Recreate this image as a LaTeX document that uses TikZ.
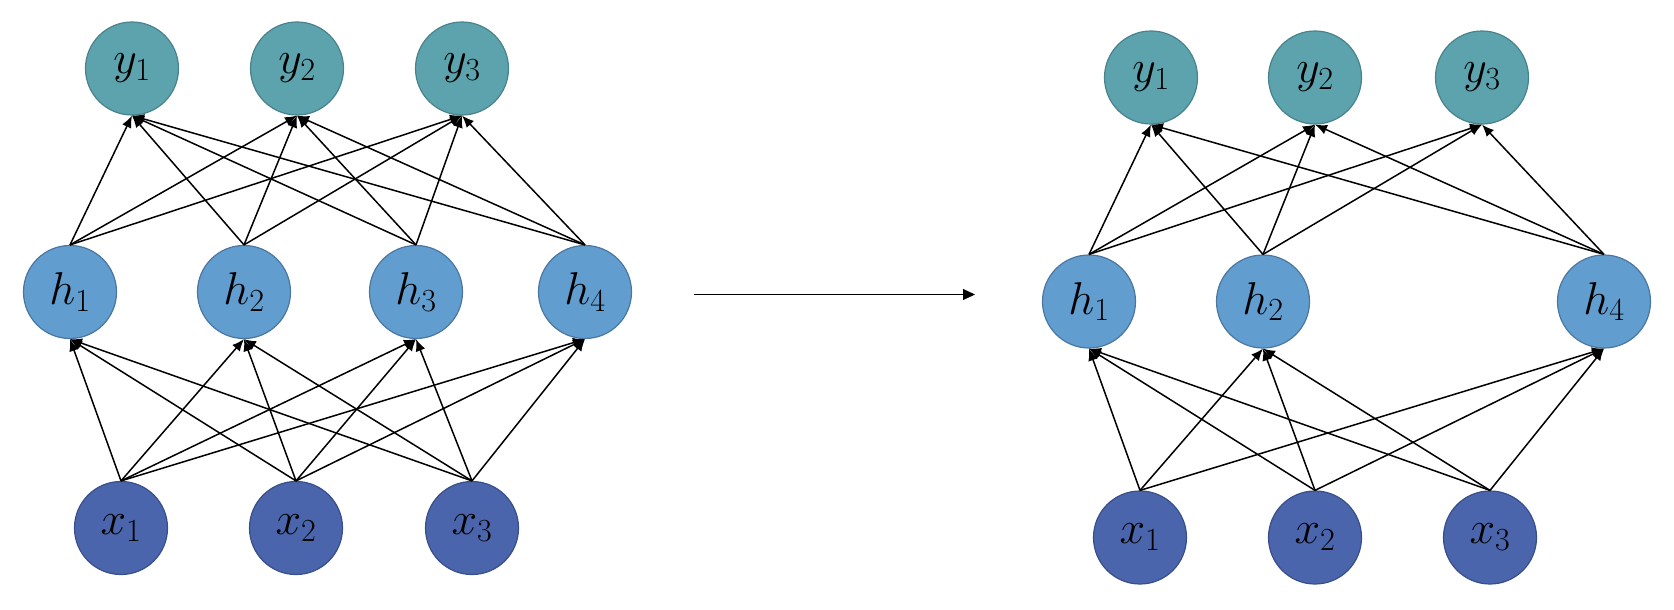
\documentclass[tikz,border=0pt]{standalone}
\usepackage{fix-cm}
\usetikzlibrary{arrows.meta}
\definecolor{yfill}{RGB}{92,163,173}
\definecolor{ydraw}{RGB}{72,130,140}
\definecolor{hfill}{RGB}{98,157,208}
\definecolor{hdraw}{RGB}{74,118,160}
\definecolor{xfill}{RGB}{74,101,171}
\definecolor{xdraw}{RGB}{55,78,138}
\tikzset{
  neuron/.style={circle, minimum size=93pt, inner sep=0pt, line width=1.2pt,
    font=\fontsize{46}{50}\selectfont},
  ynode/.style={neuron, fill=yfill, draw=ydraw},
  hnode/.style={neuron, fill=hfill, draw=hdraw},
  xnode/.style={neuron, fill=xfill, draw=xdraw},
  conn/.style={line width=1.5pt, -{Latex[length=12pt,width=10pt]}},
  bigarrow/.style={line width=1.2pt, -{Triangle[length=12pt,width=11pt]}}
}
\begin{document}
\begin{tikzpicture}[x=1pt,y=-1pt]
\useasboundingbox (0,0) rectangle (1674,610);
% left network
\node[ynode] (ly1) at (132,68.5) {$y_1$};
\node[ynode] (ly2) at (297,68.5) {$y_2$};
\node[ynode] (ly3) at (462,68.5) {$y_3$};
\node[hnode] (lh1) at (70,292) {$h_1$};
\node[hnode] (lh2) at (244,292) {$h_2$};
\node[hnode] (lh3) at (416,292) {$h_3$};
\node[hnode] (lh4) at (585,292) {$h_4$};
\node[xnode] (lx1) at (121,528) {$x_1$};
\node[xnode] (lx2) at (296,528) {$x_2$};
\node[xnode] (lx3) at (472,528) {$x_3$};
\foreach \h in {1,2,3,4}{
  \foreach \y in {1,2,3}{
    \draw[conn] (lh\h.north) -- (ly\y.south);
  }
  \foreach \x in {1,2,3}{
    \draw[conn] (lx\x.north) -- (lh\h.south);
  }
}
% middle arrow
\coordinate (ma) at (694,294.5);
\coordinate (mb) at (975,294.5);
\draw[bigarrow] (ma) -- (mb);
% right network
\node[ynode] (ry1) at (1151,77.5) {$y_1$};
\node[ynode] (ry2) at (1315,77.5) {$y_2$};
\node[ynode] (ry3) at (1482,77.5) {$y_3$};
\node[hnode] (rh1) at (1089,301.5) {$h_1$};
\node[hnode] (rh2) at (1263,301.5) {$h_2$};
\node[hnode] (rh4) at (1604,301.5) {$h_4$};
\node[xnode] (rx1) at (1140,537.5) {$x_1$};
\node[xnode] (rx2) at (1315,537.5) {$x_2$};
\node[xnode] (rx3) at (1490,537.5) {$x_3$};
\foreach \h in {1,2,4}{
  \foreach \y in {1,2,3}{
    \draw[conn] (rh\h.north) -- (ry\y.south);
  }
  \foreach \x in {1,2,3}{
    \draw[conn] (rx\x.north) -- (rh\h.south);
  }
}
\end{tikzpicture}
\end{document}
